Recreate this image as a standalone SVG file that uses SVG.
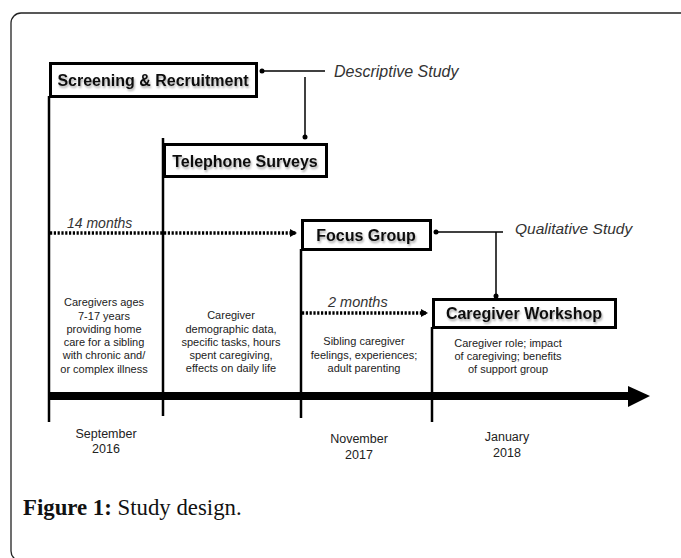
<svg xmlns="http://www.w3.org/2000/svg" width="681" height="558" viewBox="0 0 681 558">
<style>
.box{fill:#fff;stroke:#000;stroke-width:3}
.lbl{font-family:"Liberation Sans",Arial,sans-serif;font-weight:bold;font-size:16px;fill:#111;text-anchor:middle}
.ital{font-family:"Liberation Sans",Arial,sans-serif;font-style:italic;fill:#333}
.desc{font-family:"Liberation Sans",Arial,sans-serif;font-size:11px;fill:#222;text-anchor:middle}
.date{font-family:"Liberation Sans",Arial,sans-serif;font-size:12.5px;fill:#222;text-anchor:middle}
.vl{stroke:#000;stroke-width:2.5;fill:none}
.thin{stroke:#000;stroke-width:1.5;fill:none}
.dot{stroke:#000;stroke-width:3.5;stroke-dasharray:2.2 1.6;fill:none}
</style>
<defs>
<filter id="sh" x="-10%" y="-30%" width="120%" height="180%">
<feGaussianBlur in="SourceAlpha" stdDeviation="1.3"/>
<feOffset dx="1" dy="2" result="b"/>
<feComponentTransfer><feFuncA type="linear" slope="0.35"/></feComponentTransfer>
<feMerge><feMergeNode/><feMergeNode in="SourceGraphic"/></feMerge>
</filter>
<marker id="ah" markerWidth="8" markerHeight="8" refX="6" refY="4" orient="auto" markerUnits="userSpaceOnUse">
<path d="M0,0 L7,4 L0,8 z" fill="#000"/>
</marker>
</defs>
<rect x="0" y="0" width="681" height="558" fill="#fff"/>
<rect x="11" y="13" width="720" height="548" rx="10" fill="none" stroke="#222" stroke-width="1.3"/>

<g id="connectors">
<line class="vl" x1="49" y1="96" x2="49" y2="422"/>
<line class="vl" x1="163" y1="138" x2="163" y2="416"/>
<line class="vl" x1="301" y1="249" x2="301" y2="418"/>
<line class="vl" x1="432" y1="327" x2="432" y2="422"/>
<line x1="48" y1="396" x2="630" y2="396" stroke="#000" stroke-width="8"/>
<path d="M628,386 L650,396 L628,407 z" fill="#000"/>
<line class="dot" x1="50" y1="233" x2="296" y2="233" marker-end="url(#ah)"/>
<line class="dot" x1="302" y1="313" x2="427" y2="313" marker-end="url(#ah)"/>
<line class="thin" x1="262" y1="71" x2="325" y2="71"/>
<circle cx="262" cy="71" r="2.5"/>
<line class="thin" x1="305" y1="77" x2="305" y2="137"/>
<circle cx="305" cy="137" r="2.5"/>
<line class="thin" x1="436" y1="232" x2="503" y2="232"/>
<circle cx="436" cy="232" r="2.5"/>
<line class="thin" x1="496" y1="232" x2="496" y2="296"/>
<circle cx="496" cy="296" r="2.5"/>
</g>

<g id="screening">
<rect class="box" x="50.5" y="63.5" width="206" height="33"/>
<text class="lbl" x="153" y="86" filter="url(#sh)">Screening &amp; Recruitment</text>
</g>
<g id="telephone">
<rect class="box" x="164.5" y="144.5" width="162" height="32"/>
<text class="lbl" x="245" y="167" filter="url(#sh)">Telephone Surveys</text>
</g>
<g id="focus">
<rect class="box" x="302.5" y="220.5" width="128" height="29"/>
<text class="lbl" x="366" y="241" filter="url(#sh)">Focus Group</text>
</g>
<g id="workshop">
<rect class="box" x="433.5" y="299.5" width="182" height="28"/>
<text class="lbl" x="524" y="319" font-size="16.5" filter="url(#sh)">Caregiver Workshop</text>
</g>

<g id="study-labels">
<text class="ital" x="334" y="77" font-size="16">Descriptive Study</text>
<text class="ital" x="515" y="234" font-size="15.5">Qualitative Study</text>
<text class="ital" x="67" y="228" font-size="14">14 months</text>
<text class="ital" x="328" y="307" font-size="14.5">2 months</text>
</g>

<g id="descriptions">
<text class="desc" x="104" y="306">Caregivers ages</text>
<text class="desc" x="104" y="320">7-17 years</text>
<text class="desc" x="104" y="333">providing home</text>
<text class="desc" x="104" y="346">care for a sibling</text>
<text class="desc" x="104" y="359">with chronic and/</text>
<text class="desc" x="104" y="373">or complex illness</text>
<text class="desc" x="231" y="319">Caregiver</text>
<text class="desc" x="231" y="333">demographic data,</text>
<text class="desc" x="231" y="346">specific tasks, hours</text>
<text class="desc" x="231" y="359">spent caregiving,</text>
<text class="desc" x="231" y="372">effects on daily life</text>
<text class="desc" x="364" y="345">Sibling caregiver</text>
<text class="desc" x="364" y="359">feelings, experiences;</text>
<text class="desc" x="364" y="372">adult parenting</text>
<text class="desc" x="508" y="347">Caregiver role; impact</text>
<text class="desc" x="508" y="360">of caregiving; benefits</text>
<text class="desc" x="508" y="373">of support group</text>
</g>

<g id="dates">
<text class="date" x="106" y="438">September</text>
<text class="date" x="106" y="453">2016</text>
<text class="date" x="359" y="443">November</text>
<text class="date" x="359" y="459">2017</text>
<text class="date" x="507" y="441">January</text>
<text class="date" x="507" y="457">2018</text>
</g>

<text x="23" y="515" font-family="'Liberation Serif','Times New Roman',serif" font-size="22.8" fill="#111"><tspan font-weight="bold">Figure 1:</tspan> Study design.</text>
</svg>
